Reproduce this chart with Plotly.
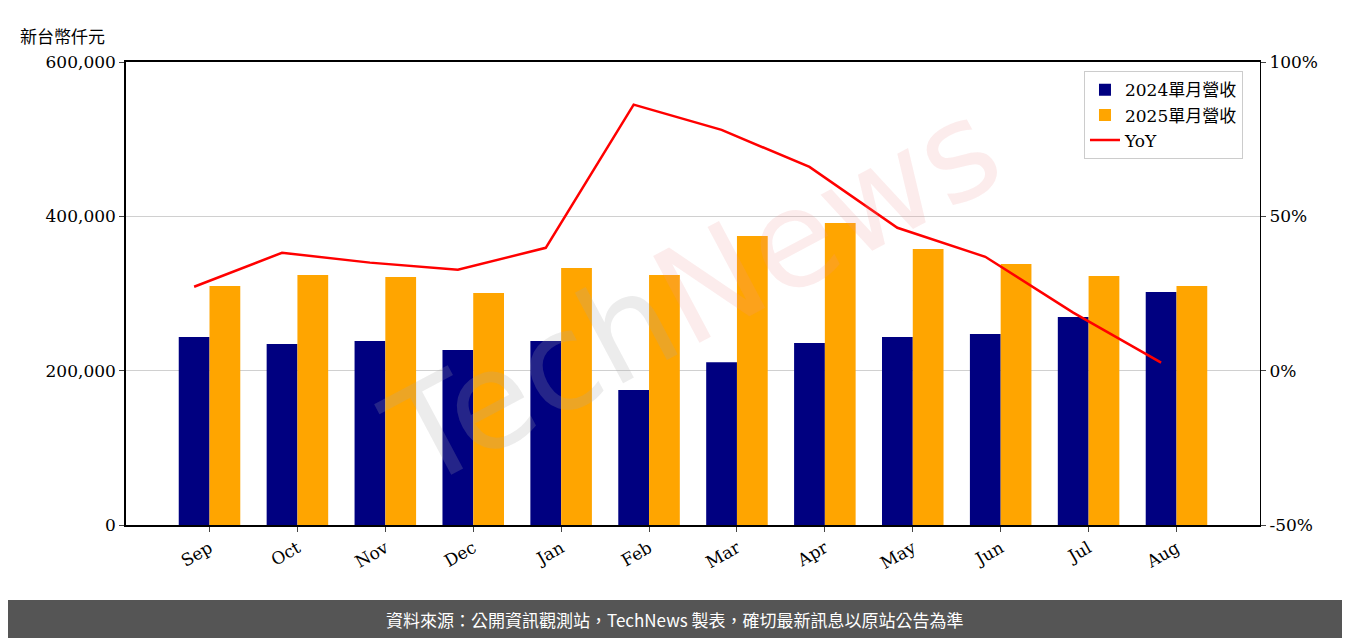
import plotly.graph_objects as go

months = ["Sep","Oct","Nov","Dec","Jan","Feb","Mar","Apr","May","Jun","Jul","Aug"]
rev_2024 = [243600,234600,238500,226800,238500,175000,211000,235900,243600,247500,269600,302000]
rev_2025 = [309700,324000,321400,300700,333000,324000,374500,391400,357700,338300,322700,309700]
yoy = [27.2,38.2,35.0,32.7,39.8,86.2,78.0,66.0,46.3,36.9,18.8,2.6]
yoy_ticks = [-50, 0, 50, 100]

serif = "DejaVu Serif"
cjk = "Noto Sans CJK TC"
L, T, PW, PH = 118, 54, 1134, 463
W = 0.35
idx = list(range(len(months)))
fig = go.Figure()
fig.add_bar(x=idx, y=rev_2024, name="2024單月營收", marker=dict(color="#000080", line_width=0), width=W, offset=-W)
fig.add_bar(x=idx, y=rev_2025, name="2025單月營收", marker=dict(color="#FFA500", line_width=0), width=W, offset=0)
fig.add_scatter(x=[i - W/2 for i in idx], y=yoy, name="YoY", yaxis="y2", mode="lines", line=dict(color="red", width=2.5))

fig.update_layout(
    width=1350, height=638, plot_bgcolor="white", paper_bgcolor="white",
    margin=dict(l=L, r=1350-L-PW, t=T, b=638-T-PH),
    font=dict(family=serif, size=17, color="black"),
    barmode="overlay",
    xaxis=dict(tickangle=-30, showline=True, linecolor="black", linewidth=1.5, mirror=True,
               tickvals=idx, ticktext=months, ticks="outside", range=[-0.95, 11.95]),
    yaxis=dict(range=[0,600000], tickvals=[0,200000,400000,600000], tickformat=",",
               showgrid=True, gridcolor="#d0d0d0", showline=True, linecolor="black", linewidth=1.5,
               ticks="outside", zeroline=False),
    yaxis2=dict(range=[-50,100], overlaying="y", side="right", tickvals=yoy_ticks,
                ticktext=[f"{v}%" for v in yoy_ticks], showgrid=False, ticks="outside",
                showline=True, linecolor="black", zeroline=False),
    legend=dict(x=0.985, y=0.98, xanchor="right", yanchor="top", bordercolor="#cccccc", borderwidth=1,
                font=dict(family=serif+", "+cjk, size=17), bgcolor="rgba(255,255,255,0.8)"),
    annotations=[
        dict(text="新台幣仟元", xref="paper", yref="paper", x=-108/PW, y=1+(T-28)/PH, showarrow=False,
             xanchor="left", yanchor="middle", font=dict(family=cjk, size=17)),
        dict(text="<span style='color:rgba(170,170,170,0.22)'>Tech</span><span style='color:rgba(240,150,150,0.18)'>News</span>",
             xref="paper", yref="paper", x=0.5, y=0.5, showarrow=False, textangle=-28,
             font=dict(family="DejaVu Sans", size=135)),
        dict(text="資料來源：公開資訊觀測站，TechNews 製表，確切最新訊息以原站公告為準", xref="paper", yref="paper",
             x=(667-L)/PW, y=-(611-T-PH)/PH, xanchor="center", yanchor="middle", showarrow=False,
             font=dict(family=cjk, size=17, color="white")),
    ],
    shapes=[dict(type="rect", xref="paper", yref="paper", x0=-(L+10)/PW, x1=(1360-L)/PW,
                 y0=-(592-T-PH)/PH, y1=-(645-T-PH)/PH, fillcolor="#555555", line_width=0, layer="below")],
)
fig.write_html("out.html")
